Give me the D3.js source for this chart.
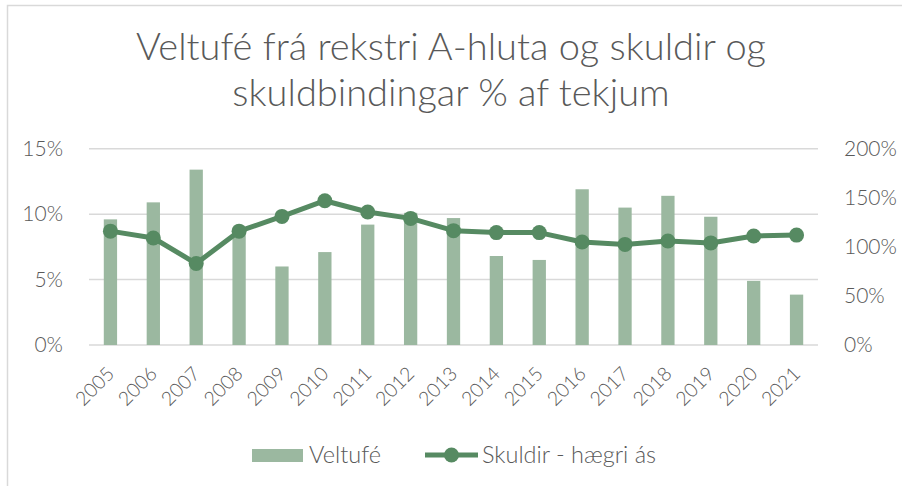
<!DOCTYPE html>
<html>
<head>
<meta charset="utf-8">
<script src="https://cdn.jsdelivr.net/npm/d3@7"></script>
<style>
  body { margin: 0; background: #fff; }
  text { font-family: "Lato", "Open Sans", sans-serif; font-weight: 300; fill: #595959; }
</style>
</head>
<body>
<div id="chart"></div>
<script>
(function() {

  var width = 902, height = 486;

  // data
  var years = ["2005","2006","2007","2008","2009","2010","2011","2012","2013",
               "2014","2015","2016","2017","2018","2019","2020","2021"];
  var veltufe = [9.6, 10.9, 13.4, 8.8, 6.0, 7.1, 9.2, 10.1, 9.7, 6.8, 6.5, 11.9, 10.5, 11.4, 9.8, 4.9, 3.85];
  var skuldir = [116, 109, 83, 116, 131, 147, 135.5, 129, 116.5, 114.5, 114.5, 105, 102.5, 106, 104, 111, 112];
  var leftTicks = [0, 5, 10, 15];
  var rightTicks = [0, 50, 100, 150, 200];

  var barColor = "#9bb8a0", lineColor = "#568a62", gridColor = "#d9d9d9";

  var plot = { left: 89, right: 818, top: 148.7, bottom: 345 };

  var svg = d3.select("#chart").append("svg")
    .attr("width", width)
    .attr("height", height);

  // chart border (only top and left edges show)
  svg.append("path")
    .attr("d", "M7.5,486 V5.5 H902")
    .attr("fill", "none")
    .attr("stroke", gridColor)
    .attr("stroke-width", 1.5);

  //title
  var title = svg.append("text")
    .attr("text-anchor", "middle")
    .style("font-size", "38px");
  title.append("tspan").attr("x", 451).attr("y", 60).text("Veltufé frá rekstri A-hluta og skuldir og");
  title.append("tspan").attr("x", 451).attr("y", 106).text("skuldbindingar % af tekjum");

  //scales
  var x = d3.scaleBand()
    .domain(years)
    .range([plot.left, plot.right])
    .paddingInner(0.69)
    .paddingOuter(0.345);

  var yLeft = d3.scaleLinear().domain([0, 15]).range([plot.bottom, plot.top]);
  var yRight = d3.scaleLinear().domain([0, 200]).range([plot.bottom, plot.top]);

  //gridlines
  svg.append("g").selectAll("line")
    .data(leftTicks)
    .enter().append("line")
    .attr("x1", plot.left)
    .attr("x2", plot.right)
    .attr("y1", function(d) { return yLeft(d); })
    .attr("y2", function(d) { return yLeft(d); })
    .attr("stroke", gridColor)
    .attr("stroke-width", 1.5);

  //left axis
  var axL = svg.append("g")
    .attr("transform", "translate(" + (plot.left - 23) + ",0)")
    .call(d3.axisLeft(yLeft).tickValues(leftTicks).tickSize(0).tickFormat(function(d) { return d + "%"; }));
  axL.select(".domain").remove();
  axL.selectAll("text").style("font-size", "21px").attr("fill", "#595959").attr("font-family", null);

  //right axis
  var axR = svg.append("g")
    .attr("transform", "translate(" + (plot.right + 23) + ",0)")
    .call(d3.axisRight(yRight).tickValues(rightTicks).tickSize(0).tickFormat(function(d) { return d + "%"; }));
  axR.select(".domain").remove();
  axR.selectAll("text").style("font-size", "21px").attr("fill", "#595959").attr("font-family", null);

  //bars
  svg.append("g").selectAll("rect")
    .data(veltufe)
    .enter().append("rect")
    .attr("x", function(d, i) { return x(years[i]); })
    .attr("width", x.bandwidth())
    .attr("y", function(d) { return yLeft(d); })
    .attr("height", function(d) { return plot.bottom - yLeft(d); })
    .attr("fill", barColor);

  //x labels
  svg.append("g").selectAll("text")
    .data(years)
    .enter().append("text")
    .attr("text-anchor", "end")
    .attr("transform", function(d) {
      return "translate(" + (x(d) + x.bandwidth() / 2 + 5) + ",375) rotate(-45)";
    })
    .style("font-size", "19.5px")
    .text(function(d) { return d; });

  //line
  var cx = function(d, i) { return x(years[i]) + x.bandwidth() / 2; };
  var line = d3.line()
    .x(cx)
    .y(function(d) { return yRight(d); });

  svg.append("path")
    .datum(skuldir)
    .attr("d", line)
    .attr("fill", "none")
    .attr("stroke", lineColor)
    .attr("stroke-width", 5)
    .attr("stroke-linejoin", "round");

  svg.append("g").selectAll("circle")
    .data(skuldir)
    .enter().append("circle")
    .attr("cx", cx)
    .attr("cy", function(d) { return yRight(d); })
    .attr("r", 7.5)
    .attr("fill", lineColor);

  //legend
  var lg = svg.append("g");
  lg.append("rect")
    .attr("x", 252).attr("y", 449)
    .attr("width", 51).attr("height", 13)
    .attr("fill", barColor);
  lg.append("text")
    .attr("x", 309).attr("y", 463)
    .style("font-size", "23.5px")
    .text("Veltufé");
  lg.append("line")
    .attr("x1", 425).attr("x2", 478)
    .attr("y1", 455).attr("y2", 455)
    .attr("stroke", lineColor)
    .attr("stroke-width", 5);
  lg.append("circle")
    .attr("cx", 451.5).attr("cy", 455).attr("r", 7.5)
    .attr("fill", lineColor);
  lg.append("text")
    .attr("x", 482).attr("y", 463)
    .style("font-size", "23.5px")
    .text("Skuldir - hægri ás");

})();
</script>
</body>
</html>
